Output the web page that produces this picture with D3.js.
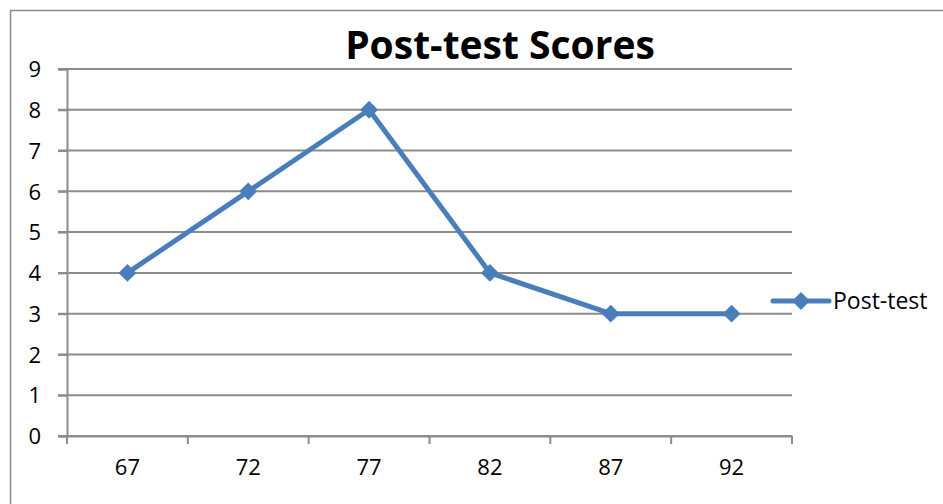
<!DOCTYPE html>
<html>
<head>
<meta charset="utf-8">
<script src="https://cdn.jsdelivr.net/npm/d3@7"></script>
<style>
    body { margin: 0; background: #fff; }
    svg { display: block; font-family: "Open Sans", "Liberation Sans", sans-serif; }
</style>
</head>
<body>
<div id="chart"></div>
<script>
// chart values
var categories = ['67', '72', '77', '82', '87', '92'];
var postTest = [4, 6, 8, 4, 3, 3];
var yTicks = [0, 1, 2, 3, 4, 5, 6, 7, 8, 9];
var seriesName = 'Post-test';
var chartTitle = 'Post-test Scores';

var width = 943,
    height = 504,
    margin = { top: 69, right: 151, bottom: 68, left: 67 };

var blue = '#4a7ebb',
    grid = '#8c8c8c';

var svg = d3.select('#chart')
    .append('svg')
    .attr('width', width)
    .attr('height', height);

// outer chart frame (only top and left edges visible in the crop)
svg.append('rect')
    .attr('x', 10.5)
    .attr('y', 10.5)
    .attr('width', width)
    .attr('height', height)
    .attr('fill', 'none')
    .attr('stroke', '#8c8c8c')
    .attr('stroke-width', 1.5);

var x = d3.scaleBand()
    .domain(categories)
    .range([margin.left, width - margin.right]);

var y = d3.scaleLinear()
    .domain([0, 9])
    .range([height - margin.bottom, margin.top]);

// horizontal gridlines
svg.append('g')
    .selectAll('line')
    .data(yTicks)
    .enter()
    .append('line')
    .attr('x1', margin.left - 9)
    .attr('x2', width - margin.right)
    .attr('y1', function(d) { return y(d); })
    .attr('y2', function(d) { return y(d); })
    .attr('stroke', grid)
    .attr('stroke-width', 2);

// y axis
var yAxis = svg.append('g')
    .attr('transform', 'translate(' + margin.left + ',0)')
    .call(d3.axisLeft(y).tickValues(yTicks).tickSize(9).tickPadding(17));

// x axis, ticks between categories
var xAxis = svg.append('g')
    .attr('transform', 'translate(0,' + y(0) + ')')
    .call(d3.axisBottom(x).tickSize(0).tickPadding(23));

xAxis.selectAll('.tick-sep')
    .data(categories.concat(['end']))
    .enter()
    .append('line')
    .attr('class', 'tick-sep')
    .attr('x1', function(d, i) { return margin.left + i * x.bandwidth(); })
    .attr('x2', function(d, i) { return margin.left + i * x.bandwidth(); })
    .attr('y1', 0)
    .attr('y2', 8)
    .attr('stroke', grid)
    .attr('stroke-width', 2);

[yAxis, xAxis].forEach(function(ax) {
    ax.select('.domain').attr('stroke', grid).attr('stroke-width', 2);
    ax.selectAll('.tick line').attr('stroke', grid).attr('stroke-width', 2);
    ax.selectAll('.tick text')
        .attr('fill', '#000')
        .style('font-size', '22px')
        .style('font-family', '"Open Sans", "Liberation Sans", sans-serif');
});
yAxis.selectAll('.tick text').attr('dy', '0.35em');

var cx = function(d, i) { return x(categories[i]) + x.bandwidth() / 2; };

var line = d3.line()
    .x(cx)
    .y(function(d) { return y(d); });

svg.append('path')
    .datum(postTest)
    .attr('d', line)
    .attr('fill', 'none')
    .attr('stroke', blue)
    .attr('stroke-width', 5)
    .attr('stroke-linejoin', 'round');

var diamond = d3.symbol().type(d3.symbolSquare).size(160);

svg.append('g')
    .selectAll('path')
    .data(postTest)
    .enter()
    .append('path')
    .attr('d', diamond)
    .attr('transform', function(d, i) { return 'translate(' + cx(d, i) + ',' + y(d) + ') rotate(45)'; })
    .attr('fill', blue);

// legend
var legend = svg.append('g')
    .attr('transform', 'translate(773,301)');

legend.append('line')
    .attr('x1', 0)
    .attr('x2', 56)
    .attr('stroke', blue)
    .attr('stroke-width', 5)
    .attr('stroke-linecap', 'round');

legend.append('path')
    .attr('d', diamond)
    .attr('transform', 'translate(28,0) rotate(45)')
    .attr('fill', blue);

legend.append('text')
    .attr('x', 60)
    .attr('dy', '0.35em')
    .style('font-size', '23px')
    .text(seriesName);

// title
svg.append('text')
    .attr('x', 500)
    .attr('y', 59)
    .attr('text-anchor', 'middle')
    .style('font-size', '39px')
    .style('font-weight', 'bold')
    .text(chartTitle);
</script>
</body>
</html>
